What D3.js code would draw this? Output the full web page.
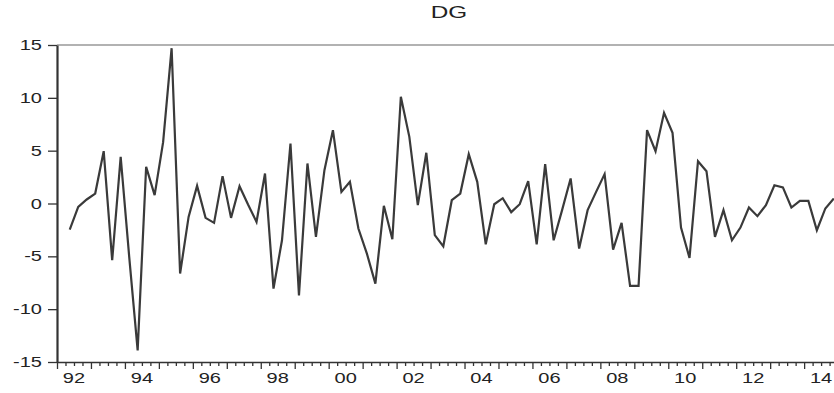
<!DOCTYPE html>
<html>
<head>
<meta charset="utf-8">
<script src="https://cdn.jsdelivr.net/npm/d3@7"></script>
<style>
body { margin: 0; background: #fff; }
svg { display: block; }
text { font-family: "Liberation Sans", Arial, sans-serif; fill: #222; }
</style>
</head>
<body>
<svg id="chart" width="834" height="393"></svg>
<script>
// DG, quarterly, starts 1992Q2
var startYear = 1992, startQuarter = 2;
var dg = [
	-2.47, -0.32, 0.38, 0.94, 4.95, -5.37, 4.42, -5.0, -13.9, 3.47,
	0.79, 5.8, 14.7, -6.63, -1.27, 1.67, -1.36, -1.83, 2.59, -1.36,
	1.64, -0.1, -1.74, 2.84, -8.05, -3.48, 5.68, -8.69, 3.79, -3.16,
	3.15, 6.94, 1.10, 2.05, -2.37, -4.74, -7.58, -0.22, -3.38, 10.1,
	6.31, -0.16, 4.8, -3.0, -4.05, 0.31, 0.94, 4.67, 2.05, -3.86,
	-0.07, 0.50, -0.82, -0.07, 2.11, -3.86, 3.72, -3.48, -0.6, 2.37,
	-4.26, -0.63, 1.10, 2.78, -4.36, -1.83, -7.8, -7.8, 6.94, 4.95,
	8.59, 6.69, -2.28, -5.15, 4.0, 3.06, -3.16, -0.63, -3.48, -2.28,
	-0.38, -1.2, -0.16, 1.73, 1.52, -0.38, 0.25, 0.25, -2.53, -0.47,
	0.47
];
var yTicks = [-15, -10, -5, 0, 5, 10, 15];
var yearLabels = ["92", "94", "96", "98", "00", "02", "04", "06", "08", "10", "12", "14"];
var labelYears = [1992, 1994, 1996, 1998, 2000, 2002, 2004, 2006, 2008, 2010, 2012, 2014];

var stretch = 1.43; // the original text is wide
var nQuarters = (2015 - startYear) * 4;

var svg = d3.select("#chart");
var plotL = 57, plotT = 45, plotB = 362, plotR = 57 + nQuarters * 8.49;

var x = d3.scaleLinear().domain([0, nQuarters]).range([plotL, plotR]);
var y = d3.scaleLinear().domain([-15, 15]).range([plotB, plotT]);

// title
svg.append("text")
	.attr("transform", "translate(449,18) scale(" + stretch + ",1)")
	.attr("text-anchor", "middle")
	.style("font-size", "17px")
	.text("DG");

// frame top
svg.append("line")
	.attr("x1", plotL).attr("x2", plotR)
	.attr("y1", plotT).attr("y2", plotT)
	.attr("stroke", "#666").attr("stroke-width", 1.2);

// bottom axis, quarter ticks, longer at year boundaries
var xAxis = d3.axisBottom(x)
	.tickValues(d3.range(0, nQuarters + 1))
	.tickSize(4)
	.tickSizeOuter(0)
	.tickFormat("");
var gx = svg.append("g").attr("transform", "translate(0," + plotB + ")").call(xAxis);
gx.select(".domain").attr("stroke", "#333").attr("stroke-width", 1.5);
gx.selectAll(".tick line")
	.attr("stroke", "#333")
	.attr("stroke-width", 1.3)
	.attr("y2", function(d) { return d % 4 == 0 ? 7 : 4; });

svg.selectAll("text.xlab")
	.data(labelYears)
	.enter().append("text")
	.attr("class", "xlab")
	.attr("transform", function(d) {
		return "translate(" + x((d - startYear) * 4 + 2) + ",383) scale(" + stretch + ",1)";
	})
	.attr("text-anchor", "middle")
	.style("font-size", "14px")
	.text(function(d, i) { return yearLabels[i]; });

// left axis
var yAxis = d3.axisLeft(y).tickValues(yTicks).tickSize(9).tickSizeOuter(0).tickFormat("");
var gy = svg.append("g").attr("transform", "translate(" + plotL + ",0)").call(yAxis);
gy.select(".domain").attr("stroke", "#333").attr("stroke-width", 2.2);
gy.selectAll(".tick line").attr("stroke", "#333").attr("stroke-width", 1.3);

svg.selectAll("text.ylab")
	.data(yTicks)
	.enter().append("text")
	.attr("class", "ylab")
	.attr("transform", function(d) {
		return "translate(42," + (y(d) + 5) + ") scale(" + stretch + ",1)";
	})
	.attr("text-anchor", "end")
	.style("font-size", "14px")
	.text(function(d) { return d; });

// the series
var q0 = startQuarter - 1;
var line = d3.line()
	.x(function(d, i) { return x(q0 + i + 0.5); })
	.y(function(d) { return y(d); });

svg.append("path")
	.datum(dg)
	.attr("d", line)
	.attr("fill", "none")
	.attr("stroke", "#3a3a3a")
	.attr("stroke-width", 2.2)
	.attr("stroke-linejoin", "miter");
</script>
</body>
</html>
